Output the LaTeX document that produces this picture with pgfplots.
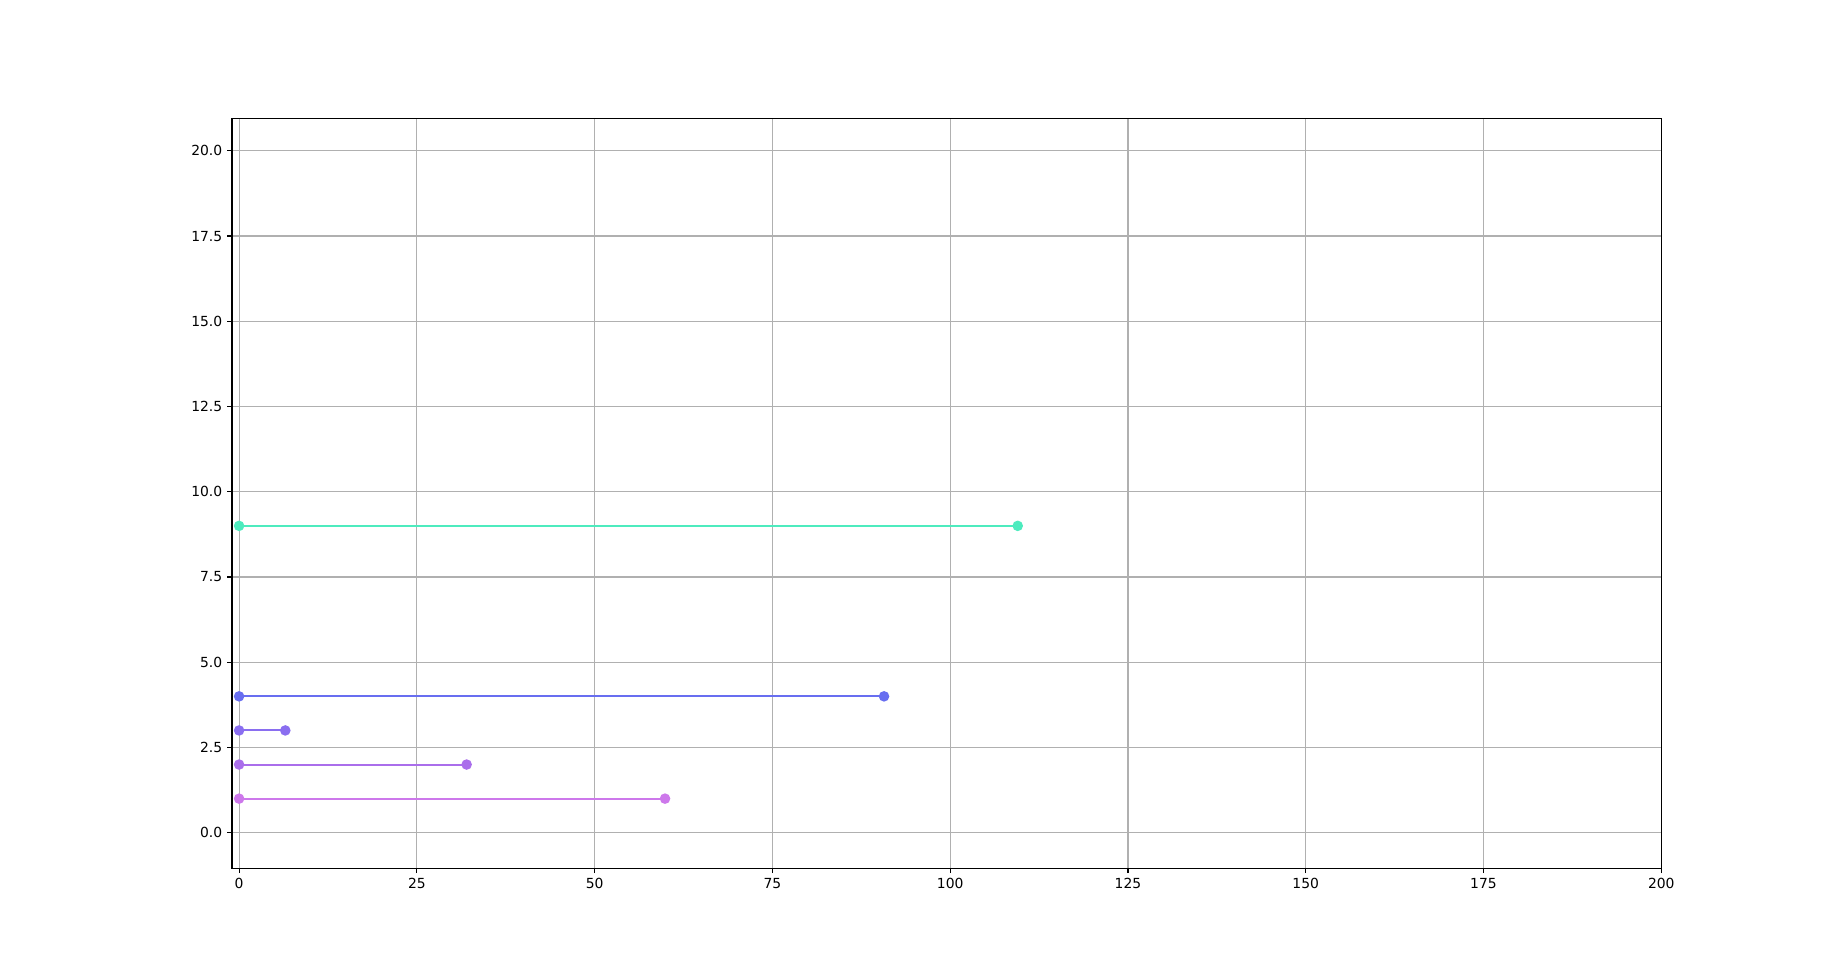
\documentclass[border=0pt]{standalone}
\usepackage{pgfplots}
\pgfplotsset{compat=1.18}
\usepackage{fontspec}
\setmainfont{DejaVu Sans}
\definecolor{c9}{RGB}{77,235,190}
\definecolor{c4}{RGB}{104,110,240}
\definecolor{c3}{RGB}{138,110,240}
\definecolor{c2}{RGB}{170,110,235}
\definecolor{c1}{RGB}{205,120,235}
\definecolor{gridc}{RGB}{176,176,176}
\begin{document}
\begin{tikzpicture}
\useasboundingbox (-167bp,-76bp) rectangle (1161.9bp,625bp);
\begin{axis}[
  at={(0,0)}, anchor=south west,
  scale only axis,
  width=1028.9bp, height=540bp,
  xmin=-1, xmax=200, ymin=-1.04, ymax=20.96,
  xtick={0,25,...,200},
  ytick={0,2.5,...,20},
  yticklabel style={/pgf/number format/.cd,fixed,fixed zerofill,precision=1},
  /pgf/number format/assume math mode=true,
  tick label style={font=\fontsize{10bp}{12bp}\selectfont},
  tick align=outside, tick pos=left,
  major tick length=3.5bp,
  tick style={black, line width=0.8bp},
  grid=major,
  major grid style={gridc, line width=0.8bp},
  axis line style={black, line width=0.8bp},
  every axis plot/.append style={line width=1.5bp, mark=*, mark size=3bp},
]
\addplot[c1, mark options={fill=c1, draw=c1}] coordinates {(0,1) (59.9,1)};
\addplot[c2, mark options={fill=c2, draw=c2}] coordinates {(0,2) (32.0,2)};
\addplot[c3, mark options={fill=c3, draw=c3}] coordinates {(0,3) (6.5,3)};
\addplot[c4, mark options={fill=c4, draw=c4}] coordinates {(0,4) (90.7,4)};
\addplot[c9, mark options={fill=c9, draw=c9}] coordinates {(0,9) (109.5,9)};
\end{axis}
\end{tikzpicture}
\end{document}
